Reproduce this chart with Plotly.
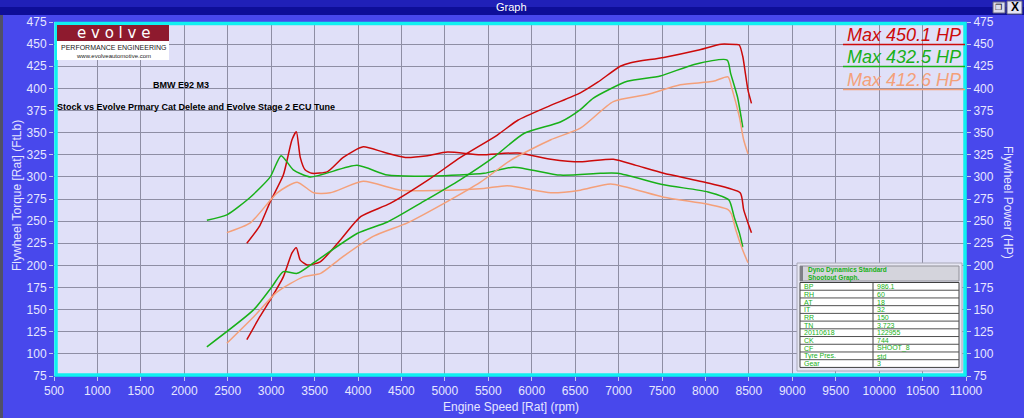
import plotly.graph_objects as go

# ---------------- data ----------------
red_tq_rpm = [2720, 2870, 2990, 3140, 3240, 3290, 3335, 3390, 3470, 3650, 3830, 4060, 4290, 4545, 4800, 5030, 5410, 5840, 6220, 6560, 6940, 7200, 7520, 8030, 8400, 8440, 8490, 8530]
red_tq     = [225, 245, 272, 302, 342, 351, 322, 308, 304, 306, 322, 334, 328, 322, 324, 328, 325, 327, 320, 317, 320, 313, 304, 293, 282, 263, 248, 237]
red_hp_rpm = [2720, 2870, 2990, 3140, 3240, 3290, 3335, 3415, 3565, 3800, 4030, 4370, 4800, 5180, 5600, 5840, 6200, 6560, 6760, 7020, 7140, 7520, 7910, 8180, 8350, 8390, 8430, 8460, 8490, 8530]
red_hp     = [116, 142, 161, 187, 214, 220, 206, 200.5, 204, 229, 255, 270, 296, 322, 347, 364, 380, 395, 407, 425, 429, 435, 443, 450, 449.5, 449, 436, 417, 398, 383]

grn_tq_rpm = [2260, 2490, 2760, 2990, 3115, 3255, 3450, 3990, 4340, 4870, 5450, 5790, 6330, 6790, 6990, 7520, 8030, 8270, 8330, 8390, 8430]
grn_tq     = [251, 257, 277, 300, 324, 308, 300, 313, 302, 301, 304, 311, 302, 304, 304, 291, 283, 274, 255, 237, 221]
grn_hp_rpm = [2260, 2800, 3010, 3140, 3300, 3490, 3990, 4340, 4750, 5180, 5560, 5910, 6330, 6560, 6710, 7100, 7480, 7870, 8250, 8290, 8370, 8430]
grn_hp     = [108, 150, 176, 193, 191, 203, 236, 249, 272, 297, 322, 349, 362, 376, 389, 408, 414, 427, 432, 417, 390, 356]

org_tq_rpm = [2490, 2760, 3070, 3300, 3490, 3680, 4060, 4490, 5030, 5450, 5720, 6220, 6560, 6910, 7520, 8030, 8260, 8300, 8350, 8430, 8490]
org_tq     = [237, 248, 282, 294, 282, 282, 295, 285, 285, 287, 290, 282, 285, 292, 277, 269, 263, 258, 240, 217, 203]
org_hp_rpm = [2490, 2800, 3070, 3370, 3570, 3800, 4180, 4570, 4990, 5410, 5760, 6220, 6560, 6940, 7330, 7710, 8090, 8260, 8310, 8390, 8440, 8490]
org_hp     = [112, 142, 170, 187, 191, 208, 233, 248, 270, 294, 319, 342, 355, 385, 393, 404, 408, 413, 398, 368, 342, 326]

x_ticks = list(range(500, 11001, 500))
y_ticks = list(range(75, 476, 25))

max_labels = ["Max 450.1 HP", "Max 432.5 HP", "Max 412.6 HP"]
table_keys = ["BP", "RH", "AT", "IT", "RR", "TN", "20110618", "CK", "CF", "Tyre Pres.", "Gear"]
table_vals = ["986.1", "60", "18", "32", "150", "3.723", "122955", "744", "SHOOT_8", "std", "3"]

title_line1 = "BMW E92 M3"
title_line2 = "Stock vs Evolve Prmary Cat Delete and Evolve Stage 2 ECU Tune"

# ---------------- styling ----------------
RED = "#CC0A0A"
GRN = "#18B018"
ORG = "#F4A07A"
TXT = "#E6E6FF"
FONT = "Liberation Sans"

# plot area in pixels
L, R, T, B = 54, 966, 22, 376
W, H = R - L, B - T


def px(x):
    return (x - L) / W


def py(y):
    return (B - y) / H


fig = go.Figure()
series = [
    (red_tq_rpm, red_tq, RED, "y"), (red_hp_rpm, red_hp, RED, "y2"),
    (grn_tq_rpm, grn_tq, GRN, "y"), (grn_hp_rpm, grn_hp, GRN, "y2"),
    (org_tq_rpm, org_tq, ORG, "y"), (org_hp_rpm, org_hp, ORG, "y2"),
]
for xs, ys, c, ax in series:
    fig.add_trace(go.Scatter(x=xs, y=ys, mode="lines", yaxis=ax,
                             line=dict(color=c, width=1.5, shape="spline", smoothing=0.6),
                             hoverinfo="skip", showlegend=False))

axis_common = dict(
    ticks="outside", ticklen=4, tickcolor="#C8C8F0", tickwidth=1,
    tickfont=dict(family=FONT, size=12, color=TXT),
    zeroline=False, showline=False,
)
fig.update_layout(
    width=1024, height=418,
    margin=dict(l=L, r=1024 - R, t=T, b=418 - B),
    paper_bgcolor="#4848EC",
    plot_bgcolor="#E0E0F8",
    showlegend=False,
    xaxis=dict(range=[500, 11000], tickvals=x_ticks, ticktext=[str(v) for v in x_ticks],
               showgrid=True, gridcolor="#8E8EA4", gridwidth=1, **axis_common),
    yaxis=dict(range=[75, 475], tickvals=y_ticks, ticktext=[str(v) for v in y_ticks],
               showgrid=True, gridcolor="#8E8EA4", gridwidth=1, **axis_common),
    yaxis2=dict(range=[75, 475], tickvals=y_ticks, ticktext=[str(v) for v in y_ticks],
                overlaying="y", side="right", showgrid=False, **axis_common),
)

shapes = []
ann = []


def text(t, x, y, size, color, family=FONT, xanchor="center", angle=0, align="center"):
    ann.append(dict(text=t, x=px(x), y=py(y), xref="paper", yref="paper", xanchor=xanchor,
                    yanchor="middle", align=align, textangle=angle, showarrow=False,
                    font=dict(family=family, size=size, color=color)))


def rect(x0, y0, x1, y1, fill, line_color=None, lw=0):
    shapes.append(dict(type="rect", xref="paper", yref="paper", x0=px(x0), x1=px(x1), y0=py(y1), y1=py(y0),
                       fillcolor=fill, line=dict(color=line_color or fill, width=lw), layer="above"))


def hline(x0, x1, y, color, lw=1):
    shapes.append(dict(type="line", xref="paper", yref="paper", x0=px(x0), x1=px(x1), y0=py(y), y1=py(y),
                       line=dict(color=color, width=lw), layer="above"))


# title bar
rect(0, 0, 1024, 7, "#2020B8")
rect(0, 7, 1024, 15, "#0E0E98")
text("Graph", 512, 7.5, 11, "white")
rect(993, 2, 1005, 13, "#DCDCEC", "#606080", 1)
rect(1007, 1, 1022, 14, "#E4E4F4", "#606080", 1)
text("<b>X</b>", 1014.5, 7.5, 12, "black")
text("\u2750", 999, 7.5, 8, "black", family="DejaVu Sans")
# left dark strip
rect(0, 15, 3, 418, "#505068")

# cyan frame
shapes.append(dict(type="rect", xref="paper", yref="paper", x0=px(L + 2), x1=px(R - 1), y0=py(B - 1),
                   y1=py(T + 1.5), line=dict(color="#10F0F0", width=3.5), layer="above"))

# logo
rect(57, 25, 169, 41, "#8E1A2E")
rect(57, 41, 169, 60, "white")
text("e v o l v e", 113, 33, 15, "white", family="DejaVu Sans")
text("PERFORMANCE ENGINEERING", 113, 47.5, 7, "#202020")
text("www.evolveautomotive.com", 113, 56, 6, "#202020")

# titles in plot
text("<b>" + title_line1 + "</b>", 181, 84.5, 9, "black")
text("<b>" + title_line2 + "</b>", 55, 106.5, 9, "black", xanchor="left")

# max labels
for lab, c, yc, yl in zip(max_labels, [RED, GRN, ORG], [35, 57, 80], [44.5, 66.5, 89.5]):
    text("<i>" + lab + "</i>", 904, yc, 18, c)
    hline(843, 965, yl, c, 1.5)

# table
rect(797, 263, 962, 371, "#E6E6F2", "#A8A8B8", 1)
rect(800, 266, 959, 281, "#D4D4DC", "#909098", 1)
rect(800, 266, 803, 281, "#808088")
text("<b>Dyno Dynamics Standard<br>Shootout Graph.</b>", 806, 273.5, 6.5, GRN, xanchor="left", align="left")
row_top, row_h = 282.5, 7.72
n = len(table_keys)
rect(800, row_top, 959, row_top + n * row_h, "white", "#404040", 1)
shapes.append(dict(type="line", xref="paper", yref="paper", x0=px(873), x1=px(873),
                   y0=py(row_top + n * row_h), y1=py(row_top), line=dict(color="#404040", width=1), layer="above"))
for i, (k, v) in enumerate(zip(table_keys, table_vals)):
    yc = row_top + (i + 0.5) * row_h
    if i > 0:
        hline(800, 959, row_top + i * row_h, "#505050", 1)
    text(k, 801.5, yc + 0.2, 7, GRN, xanchor="left")
    text(v, 875, yc + 0.2, 7, GRN, xanchor="left")

# axis titles
text("Flywheel Torque [Rat] (FtLb)", 17, 196, 12, TXT, angle=-90)
text("Flywheel Power (HP)", 1008, 202, 12, TXT, angle=90)
text("Engine Speed [Rat] (rpm)", 511, 407, 12, TXT)

fig.update_layout(shapes=shapes, annotations=ann)
fig.write_html("out.html")
